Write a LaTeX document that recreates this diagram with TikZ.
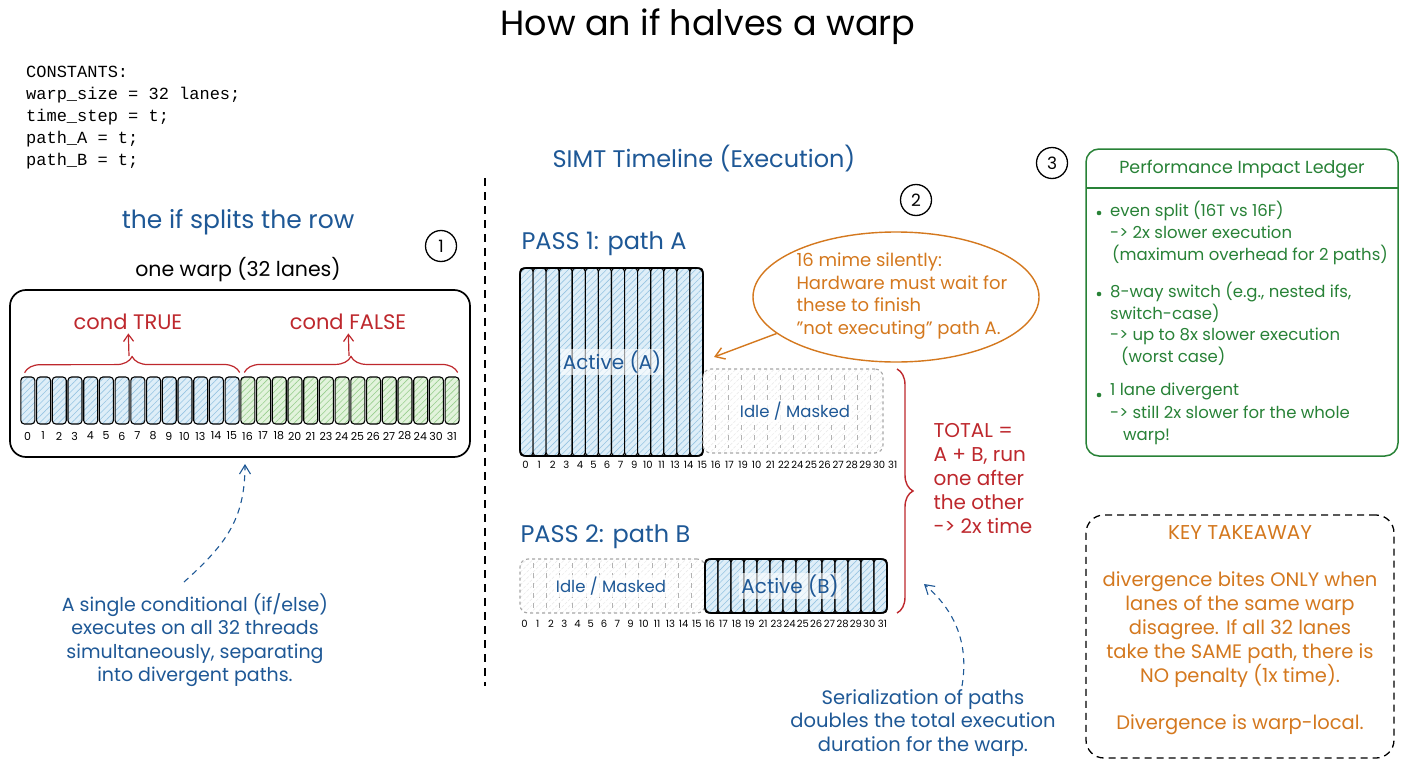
\documentclass[tikz,border=0pt]{standalone}
\usepackage{fontspec}
\setmainfont{Poppins}
\setmonofont{Liberation Mono}
\usetikzlibrary{patterns.meta,shapes.geometric,decorations.pathreplacing,arrows.meta,calc}
\definecolor{cblue}{RGB}{30,88,150}
\definecolor{cred}{RGB}{190,40,45}
\definecolor{corange}{RGB}{212,120,30}
\definecolor{cgreen}{RGB}{40,130,55}
\definecolor{fblue}{RGB}{222,238,248}
\definecolor{hblue}{RGB}{150,196,226}
\definecolor{fgreen}{RGB}{226,243,220}
\definecolor{hgreen}{RGB}{150,206,140}
\newcommand\fsz[2]{\fontsize{#1}{#2}\selectfont}
\tikzset{
  bluelane/.style={draw=black,line width=1.1pt,rounded corners=3.5pt,inner sep=0pt,
    preaction={fill=fblue},pattern={Lines[angle=45,distance=4.5pt,line width=0.6pt]},pattern color=hblue},
  greenlane/.style={draw=black,line width=1.1pt,rounded corners=3.5pt,inner sep=0pt,
    preaction={fill=fgreen},pattern={Lines[angle=45,distance=4.5pt,line width=0.6pt]},pattern color=hgreen},
  idlebox/.style={draw=gray!70,dashed,line width=1.1pt,rounded corners=8pt,inner sep=0pt,
    preaction={fill=white},pattern={Lines[angle=45,distance=4.5pt,line width=0.5pt]},pattern color=gray!18},
  idleline/.style={draw=gray!60,line width=0.8pt,dash pattern=on 5pt off 5pt},
  lanelbl/.style={font=\fsz{11}{13},inner sep=0pt},
  lanelbls/.style={font=\fsz{10}{12},inner sep=0pt},
  circnum/.style={draw=black,circle,line width=1.3pt,minimum size=31pt,inner sep=0pt,font=\fsz{17}{20}},
  bluetxt/.style={text=cblue},
  dasharrow/.style={cblue,line width=1.1pt,dash pattern=on 6pt off 5pt,-{Straight Barb[length=9pt,width=11pt]}},
}
\begin{document}
\begin{tikzpicture}[x=1pt,y=-1pt]
\useasboundingbox (0,0) rectangle (1408,768);
\fill[white] (0,0) rectangle (1408,768);

% title
\node[font=\fsz{35}{40}] (title) at (708,27) {How an if halves a warp};

% constants
\node[anchor=north west,align=left,inner sep=0pt,font=\ttfamily\fsz{17}{22}] (consts) at (26,66)
  {CONSTANTS:\\warp\_size = 32 lanes;\\time\_step = t;\\path\_A = t;\\path\_B = t;};

% divider
\coordinate (dtop) at (485,178);
\coordinate (dbot) at (485,686);
\draw[line width=1.3pt,dash pattern=on 8pt off 6pt] (dtop) -- (dbot);

% ---------- left panel ----------
\node[bluetxt,font=\fsz{25}{28}] (splits) at (238,222) {the if splits the row};
\node[circnum] (c1) at (441,246) {1};
\node[font=\fsz{20.5}{24}] (warplbl) at (238,270) {one warp (32 lanes)};
\node[draw=black,line width=1.7pt,rounded corners=16pt,minimum width=460pt,minimum height=167pt,inner sep=0pt] (warp) at (240,373.5) {};

\foreach \i in {0,...,13} {
  \node[bluelane,minimum width=14pt,minimum height=47pt] (wl\i) at ({20+(\i+0.5)*15.714},400.5) {};
}
\foreach \i in {14,...,27} {
  \node[greenlane,minimum width=14pt,minimum height=47pt] (wl\i) at ({20+(\i+0.5)*15.714},400.5) {};
}
\foreach \t [count=\i from 0] in {0,1,2,3,4,5,6,7,8,9,10,13,14,15,16,17,18,20,21,23,24,25,26,27,28,24,30,31} {
  \node[lanelbl] (wn\i) at ({27.5+\i*15.714},436) {\t};
}

\node[text=cred,font=\fsz{21}{24}] (ctrue) at (128,322) {cond TRUE};
\node[text=cred,font=\fsz{21}{24}] (cfalse) at (348,322) {cond FALSE};
\draw[cred,line width=1.2pt,decorate,decoration={brace,amplitude=16pt}] ($(wl0.north west)+(4,-4)$) -- ($(wl13.north east)+(0,-4)$);
\draw[cred,line width=1.2pt,decorate,decoration={brace,amplitude=16pt}] ($(wl14.north west)+(4,-4)$) -- ($(wl27.north east)+(-2,-4)$);
\coordinate (bT) at (129,356);
\coordinate (bF) at (349,356);
\draw[cred,line width=1.2pt,-{Straight Barb[length=7pt,width=10pt]}] (bT) -- (ctrue);
\draw[cred,line width=1.2pt,-{Straight Barb[length=7pt,width=10pt]}] (bF) -- (cfalse);

\node[bluetxt,align=center,font=\fsz{19}{23.5}] (note1) at (195,640)
  {A single conditional (if/else)\\executes on all 32 threads\\simultaneously, separating\\into divergent paths.};
\coordinate (n1s) at (184,582);
\coordinate (n1e) at (245,464);
\draw[dasharrow] (n1s) .. controls (225,545) and (245,520) .. (n1e);

% ---------- middle panel ----------
\node[bluetxt,font=\fsz{24}{28}] (simt) at (704,159) {SIMT Timeline (Execution)};
\node[circnum] (c2) at (916,200) {2};

\node[bluetxt,anchor=west,font=\fsz{24}{28}] (pass1) at (518,244) {PASS 1: path A};
\foreach \i in {0,...,13} {
  \node[bluelane,minimum width=13.07pt,minimum height=188pt] (pa\i) at ({520+(\i+0.5)*13.07},362) {};
}
\node[draw=black,line width=1.6pt,rounded corners=6pt,minimum width=183pt,minimum height=188pt,inner sep=0pt] (p1act) at (611.5,362) {};
\node[idlebox,minimum width=180pt,minimum height=84pt] (p1idle) at (793,411) {};
\foreach \i in {1,...,13} {
  \draw[idleline] ({703+\i*12.857},375) -- ({703+\i*12.857},448);
}
\node[bluetxt,font=\fsz{20}{24},fill=white,fill opacity=0.6,text opacity=1,inner sep=2pt] (actA) at (612,362) {Active (A)};
\node[bluetxt,font=\fsz{16.5}{19},fill=white,fill opacity=0.8,text opacity=1,inner sep=2pt] (idA) at (795,411) {Idle / Masked};
\foreach \t [count=\i from 0] in {0,1,2,3,4,5,6,7,9,10,11,13,14,15,16,17,19,10,21,22,24,25,26,27,28,29,30,31} {
  \node[lanelbls] (an\i) at ({525.5+\i*13.6},465) {\t};
}

% callout
\node[ellipse,draw=corange,line width=1.4pt,minimum width=286pt,minimum height=130pt,inner sep=0pt] (bubble) at (896,297) {};
\node[align=left,text=corange,font=\fsz{18}{22.5},anchor=west] (btext) at (793,296)
  {16 mime silently:\\Hardware must wait for\\these to finish\\"not executing" path A.};
\coordinate (btip) at (714,357);
\draw[corange,line width=1.4pt,-{Straight Barb[length=9pt,width=12pt]}] (bubble.197) -- (btip);

% pass 2
\node[bluetxt,anchor=west,font=\fsz{24}{28}] (pass2) at (517,537) {PASS 2: path B};
\node[idlebox,minimum width=185pt,minimum height=54pt] (p2idle) at (612.5,586) {};
\foreach \i in {1,...,13} {
  \draw[idleline] ({520+\i*13.21},563) -- ({520+\i*13.21},609);
}
\foreach \i in {0,...,13} {
  \node[bluelane,minimum width=13pt,minimum height=54pt] (pb\i) at ({705+(\i+0.5)*13},586) {};
}
\node[draw=black,line width=1.6pt,rounded corners=6pt,minimum width=182pt,minimum height=54pt,inner sep=0pt] (p2act) at (796,586) {};
\node[bluetxt,font=\fsz{20}{24},fill=white,fill opacity=0.6,text opacity=1,inner sep=2pt] (actB) at (790,586) {Active (B)};
\node[bluetxt,font=\fsz{16.5}{19},fill=white,fill opacity=0.8,text opacity=1,inner sep=2pt] (idB) at (611,586) {Idle / Masked};
\foreach \t [count=\i from 0] in {0,1,2,3,4,5,6,7,9,10,11,13,14,15,16,17,18,19,21,23,24,25,26,27,28,29,30,31} {
  \node[lanelbls] (bn\i) at ({524.5+\i*13.26},624) {\t};
}

% total brace
\coordinate (brT) at (897,369);
\coordinate (brB) at (897,613);
\draw[cred,line width=1.4pt,decorate,decoration={brace,amplitude=16pt}] (brT) -- (brB);
\node[align=left,text=cred,font=\fsz{20}{24},anchor=west] (total) at (930,479)
  {TOTAL =\\A + B, run\\one after\\the other\\-> 2x time};

\node[bluetxt,align=center,font=\fsz{19.5}{23.5}] (note2) at (923,723)
  {Serialization of paths\\doubles the total execution\\duration for the warp.};
\coordinate (n2s) at (962,686);
\coordinate (n2e) at (924,584);
\draw[dasharrow] (n2s) .. controls (968,650) and (960,615) .. (n2e);

% ---------- right panel ----------
\node[circnum] (c3) at (1052,163) {3};
\node[draw=cgreen,line width=1.5pt,rounded corners=13pt,minimum width=312pt,minimum height=307pt,inner sep=0pt] (ledger) at (1242,302.5) {};
\coordinate (lgL) at (1086,188);
\coordinate (lgR) at (1398,188);
\draw[cgreen,line width=1.3pt] (lgL) -- (lgR);
\node[text=cgreen,font=\fsz{17.5}{20}] (lgtitle) at (1242,169) {Performance Impact Ledger};
\fill[cgreen] (1099,213) circle (2.3pt);
\fill[cgreen] (1099,294) circle (2.3pt);
\fill[cgreen] (1099,395) circle (2.3pt);
\node[text=cgreen,align=left,anchor=north west,inner sep=0pt,font=\fsz{16.5}{22}] (it1) at (1110,201)
  {even split (16T vs 16F)\\-> 2x slower execution\\\hspace*{2pt}(maximum overhead for 2 paths)};
\node[text=cgreen,align=left,anchor=north west,inner sep=0pt,font=\fsz{16.5}{21.5}] (it2) at (1110,282)
  {8-way switch (e.g., nested ifs,\\switch-case)\\-> up to 8x slower execution\\\hspace*{11pt}(worst case)};
\node[text=cgreen,align=left,anchor=north west,inner sep=0pt,font=\fsz{16.5}{22.5}] (it3) at (1110,383)
  {1 lane divergent\\-> still 2x slower for the whole\\\hspace*{13pt}warp!};

\node[draw=black,line width=1.3pt,dash pattern=on 7pt off 5pt,rounded corners=18pt,minimum width=308pt,minimum height=243pt,inner sep=0pt] (key) at (1240,636.5) {};
\node[text=corange,font=\fsz{20}{24}] (keytitle) at (1240,533) {KEY TAKEAWAY};
\node[text=corange,align=center,font=\fsz{19.5}{24}] (keytext) at (1240,630)
  {divergence bites ONLY when\\lanes of the same warp\\disagree. If all 32 lanes\\take the SAME path, there is\\NO penalty (1x time).};
\node[text=corange,font=\fsz{19.5}{24}] (keylast) at (1240,725) {Divergence is warp-local.};
\end{tikzpicture}
\end{document}
